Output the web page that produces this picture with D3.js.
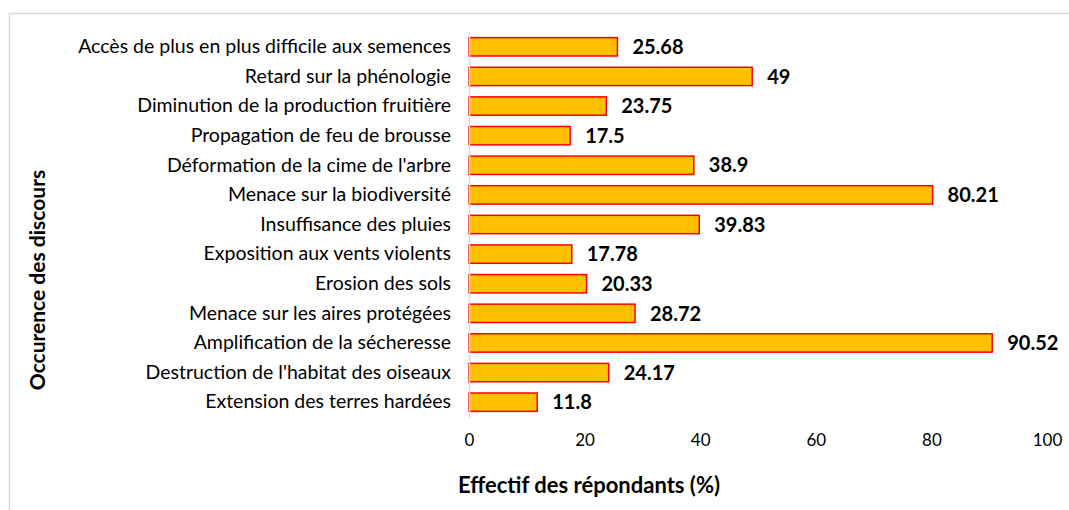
<!DOCTYPE html>
<html>
<head>
<meta charset="utf-8">
<script src="https://cdn.jsdelivr.net/npm/d3@7"></script>
<style>
  body { margin: 0; background: #fff; }
  text { font-family: Lato, "Open Sans", sans-serif; }
</style>
</head>
<body>
<div id="chart"></div>
<script>
/* categories, top to bottom as in the figure */
const categories = [
  "Accès de plus en plus difficile aux semences",
  "Retard sur la phénologie ",
  "Diminution de la production fruitière",
  "Propagation de feu de brousse",
  "Déformation de la cime de l'arbre",
  "Menace sur la biodiversité",
  "Insuffisance des pluies",
  "Exposition aux vents violents",
  "Erosion des sols",
  "Menace sur les aires protégées",
  "Amplification de la sécheresse",
  "Destruction de l'habitat des oiseaux",
  "Extension des terres hardées"
];

/* percentage of respondents */
const values = [25.68, 49, 23.75, 17.5, 38.9, 80.21, 39.83, 17.78, 20.33, 28.72, 90.52, 24.17, 11.8];

/* value labels, as printed */
const valueLabels = ["25.68", "49", "23.75", "17.5", "38.9", "80.21", "39.83", "17.78", "20.33", "28.72", "90.52", "24.17", "11.8"];

const xTicks = [0, 20, 40, 60, 80, 100];

const width = 1069;
const height = 510;
const fontStack = "Lato, 'Open Sans', sans-serif";

const svg = d3.select("#chart")
  .append("svg")
    .attr("width", width)
    .attr("height", height);

/* chart area frame */
svg.append("rect")
  .attr("x", 9.5)
  .attr("y", 13.5)
  .attr("width", width)
  .attr("height", height)
  .attr("fill", "none")
  .attr("stroke", "#d9d9d9")
  .attr("stroke-width", 1.5);

const x = d3.scaleLinear().domain([0, 100]).range([469, 1047]);
const y = d3.scaleBand().domain(categories).range([32, 417]).paddingInner(0.38).paddingOuter(0.19);

/* bars */
svg.selectAll("rect.bar")
  .data(values)
  .join("rect")
    .attr("class", "bar")
    .attr("x", x(0))
    .attr("y", (d, i) => y(categories[i]))
    .attr("width", d => x(d) - x(0))
    .attr("height", y.bandwidth())
    .attr("fill", "#FFC000")
    .attr("stroke", "#FF0000")
    .attr("stroke-width", 1.5);

/* value labels */
svg.selectAll("text.val")
  .data(values)
  .join("text")
    .attr("class", "val")
    .attr("x", d => x(d) + 15)
    .attr("y", (d, i) => y(categories[i]) + y.bandwidth() / 2)
    .attr("dy", "0.36em")
    .attr("font-size", 20)
    .attr("font-weight", "bold")
    .attr("fill", "#000")
    .text((d, i) => valueLabels[i]);

/* y axis (line + labels) */
const yAxis = svg.append("g")
  .attr("transform", "translate(" + x(0) + ",0)")
  .call(d3.axisLeft(y).tickSize(0).tickPadding(18));
yAxis.select(".domain").attr("stroke", "#d9d9d9").attr("stroke-width", 1.5);
yAxis.selectAll("text")
  .attr("font-size", 19.5)
  .attr("fill", "#000")
  .style("font-family", fontStack);

/* x axis labels only, no line */
const xAxis = svg.append("g")
  .attr("transform", "translate(0,434)")
  .call(d3.axisBottom(x).tickValues(xTicks).tickSize(0).tickPadding(0));
xAxis.select(".domain").remove();
xAxis.selectAll("text")
  .attr("font-size", 17)
  .attr("fill", "#000")
  .style("font-family", fontStack);

/* axis titles */
svg.append("text")
  .attr("x", 589)
  .attr("y", 493)
  .attr("text-anchor", "middle")
  .attr("font-size", 22)
  .attr("font-weight", "bold")
  .text("Effectif des répondants (%)");

svg.append("text")
  .attr("transform", "translate(45,280) rotate(-90)")
  .attr("text-anchor", "middle")
  .attr("font-size", 21)
  .attr("font-weight", "bold")
  .text("Occurence des discours");
</script>
</body>
</html>
